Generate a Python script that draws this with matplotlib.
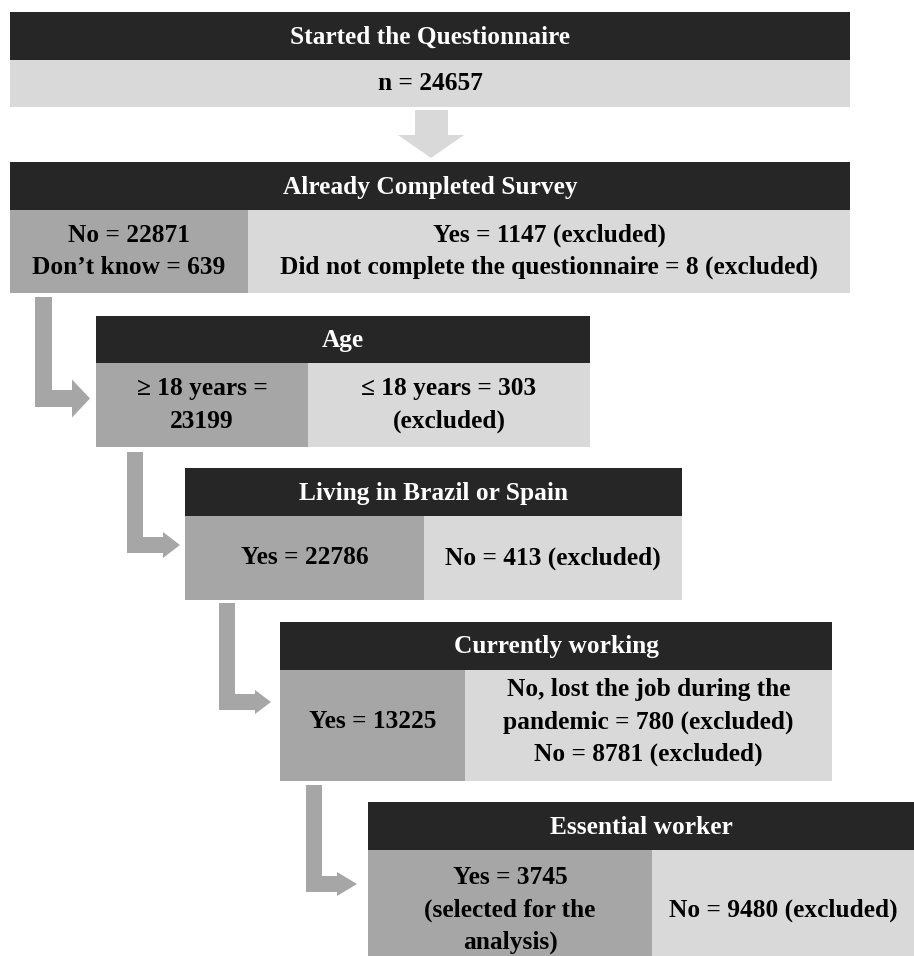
import matplotlib
matplotlib.use("Agg")
import matplotlib.pyplot as plt
from matplotlib.patches import Rectangle, Polygon

# ---- data ----
stage_titles = ["Started the Questionnaire", "Already Completed Survey", "Age",
                "Living in Brazil or Spain", "Currently working", "Essential worker"]
included_text = ["n = 24657",
                 "No = 22871\nDon\u2019t know = 639",
                 "\u2265 18 years =\n23199",
                 "Yes = 22786",
                 "Yes = 13225",
                 "Yes = 3745\n(selected for the\nanalysis)"]
excluded_text = [None,
                 "Yes = 1147 (excluded)\nDid not complete the questionnaire = 8 (excluded)",
                 "\u2264 18 years = 303\n(excluded)",
                 "No = 413 (excluded)",
                 "No, lost the job during the\npandemic = 780 (excluded)\nNo = 8781 (excluded)",
                 "No = 9480 (excluded)"]

# ---- layout (pixels) ----
# x0, split, x1, header_top, header_bottom, row_bottom
boxes = [(10, None, 850, 12, 60, 107),
         (10, 248, 850, 162, 210, 293),
         (96, 308, 590, 316, 363, 447),
         (185, 424, 682, 468, 516, 600),
         (280, 465, 832, 622, 670, 774),
         (368, 652, 914, 802, 850, 970)]

DARK = "#262626"
MID = "#a6a6a6"
LIGHT = "#d9d9d9"
FONT = ["Liberation Serif", "DejaVu Serif"]
FS = 18.3
LS = 1.5

fig = plt.figure(figsize=(9.14, 9.56), dpi=100)
ax = fig.add_axes([0, 0, 1, 1])
ax.set_xlim(0, 914)
ax.set_ylim(956, 0)
ax.axis("off")

for i, (x0, sp, x1, ht, hb, rb) in enumerate(boxes):
    ax.add_patch(Rectangle((x0, ht), x1 - x0, hb - ht, facecolor=DARK, edgecolor="none"))
    ax.text((x0 + x1) / 2, (ht + hb) / 2 + 1, stage_titles[i], color="white", fontsize=FS,
            fontweight="bold", family=FONT, ha="center", va="center")
    if sp is None:
        ax.add_patch(Rectangle((x0, hb), x1 - x0, rb - hb, facecolor=LIGHT, edgecolor="none"))
        ax.text((x0 + x1) / 2, (hb + rb) / 2, included_text[i], color="black", fontsize=FS,
                fontweight="bold", family=FONT, ha="center", va="center")
    else:
        ax.add_patch(Rectangle((x0, hb), sp - x0, rb - hb, facecolor=MID, edgecolor="none"))
        ax.add_patch(Rectangle((sp, hb), x1 - sp, rb - hb, facecolor=LIGHT, edgecolor="none"))
        ax.text((x0 + sp) / 2, (hb + rb) / 2, included_text[i], color="black", fontsize=FS,
                fontweight="bold", family=FONT, ha="center", va="center", linespacing=LS)
        ax.text((sp + x1) / 2, (hb + rb) / 2, excluded_text[i], color="black", fontsize=FS,
                fontweight="bold", family=FONT, ha="center", va="center", linespacing=LS)

# fill remainder of box 5 row (text centred slightly above geometric centre in reference)
ax.add_patch(Rectangle((280, 774), 465 - 280, 7, facecolor=MID, edgecolor="none"))
ax.add_patch(Rectangle((465, 774), 832 - 465, 7, facecolor=LIGHT, edgecolor="none"))

# down arrow between box 1 and 2
ax.add_patch(Polygon([(415, 110), (448, 110), (448, 135), (464, 135), (431, 158),
                      (398, 135), (415, 135)], closed=True, facecolor=LIGHT, edgecolor="none"))

# elbow arrows: (shaft_left, shaft_right, y_top, y_bottom, head_start, head_tip, head_half)
elbows = [(35, 52, 297, 407, 72, 90, 19),
          (127, 143, 452, 553, 163, 180, 13),
          (219, 235, 603, 710, 255, 271, 12),
          (306, 322, 785, 892, 337, 357, 12)]
for sl, sr, yt, yb, hs, ht_, hh in elbows:
    w = sr - sl
    yc = yb - w / 2
    pts = [(sl, yt), (sr, yt), (sr, yb - w), (hs, yb - w), (hs, yc - hh), (ht_, yc),
           (hs, yc + hh), (hs, yb), (sl, yb)]
    ax.add_patch(Polygon(pts, closed=True, facecolor=MID, edgecolor="none"))

fig.savefig("out.png", dpi=100, facecolor="white")
